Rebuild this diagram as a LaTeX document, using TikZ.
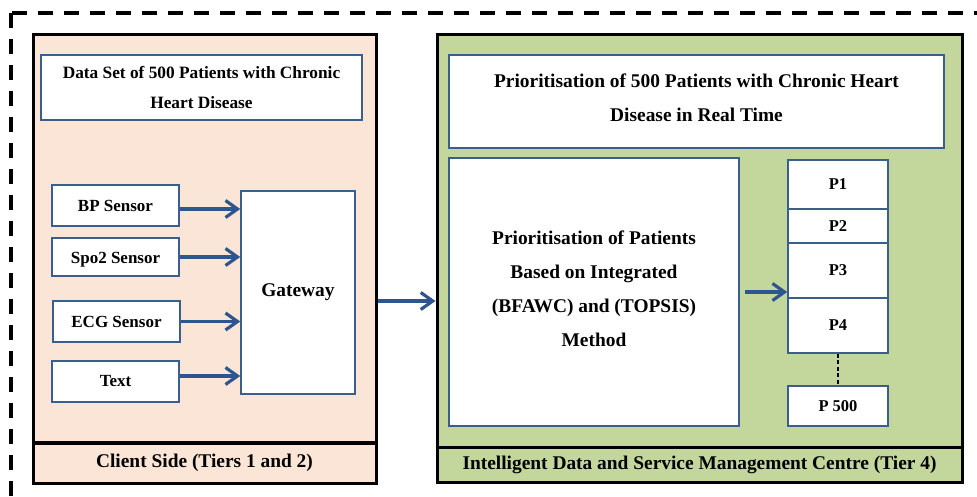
\documentclass[tikz,border=0pt]{standalone}
\usepackage{fontspec}
\setmainfont{Liberation Serif}
\usetikzlibrary{arrows.meta}

\definecolor{peach}{HTML}{FBE5D6}
\definecolor{olive}{HTML}{C3D69B}
\definecolor{boxblue}{HTML}{3A5F8E}
\definecolor{arrowblue}{HTML}{2F5590}

% move a line of text down without changing the space it takes
\newcommand\dropline[2][3.5pt]{\raisebox{-#1}[\height][\depth]{#2}}

\tikzset{
  tier/.style={draw=black, line width=3pt, inner sep=0pt, rectangle},
  panel/.style={draw=boxblue, line width=1.5pt, fill=white, inner sep=0pt, align=center, rectangle},
  sensor/.style={panel, line width=2pt, font=\fontsize{17}{20}\selectfont\bfseries},
  plabel/.style={panel, font=\fontsize{16.5}{20}\selectfont\bfseries},
  bigtext/.style={font=\fontsize{19.4}{34}\selectfont\bfseries},
  size/.style n args={2}{minimum width=#1pt, minimum height=#2pt},
  flow/.style={draw=arrowblue, line width=3.2pt,
    -{Straight Barb[length=12pt,width=17pt]}},
}

\begin{document}
\begin{tikzpicture}[x=1pt,y=-1pt]
\useasboundingbox (0,0) rectangle (977,497);
\begin{scope}
  \clip (0,0) rectangle (977,497);
  % outer dashed frame, running off the page to the right and bottom
  \draw[line width=4pt, dash pattern=on 15pt off 11pt] (11,13) rectangle (1010,530);
\end{scope}

% ---- client side (tiers 1 and 2)
\node[tier, fill=peach, size={343}{407}] (client) at (204.5,238.5) {};
\node[tier, fill=peach, size={343}{40}, bigtext] (clientfoot) at (204.5,463)
  {Client Side (Tiers 1 and 2)};

\node[panel, line width=1.2pt, size={321}{65}, font=\fontsize{17.3}{30}\selectfont\bfseries]
  (dataset) at (201.5,87.5) {Data Set of 500 Patients with Chronic\\Heart Disease};

\node[sensor, size={127}{41}] (bp)  at (115.5,205.5) {BP Sensor};
\node[sensor, size={127}{38}] (spo) at (115.5,257)   {\rule{0pt}{16pt}Spo2 Sensor};
\node[sensor, size={127}{41}] (ecg) at (116.5,321.5) {ECG Sensor};
\node[sensor, size={127}{41}] (txt) at (115.5,381.5) {Text};

\node[panel, size={114}{203}, bigtext] (gw) at (298,292.5) {Gateway};

\draw[flow] ([yshift=-3.5pt]bp.east) -- ([yshift=-3.5pt]bp.east -| gw.west);
\draw[flow] (spo.east) -- (spo.east -| gw.west);
\draw[flow] (ecg.east) -- (ecg.east -| gw.west);
\draw[flow] ([yshift=5.5pt]txt.east) -- ([yshift=5.5pt]txt.east -| gw.west);

% ---- management centre (tier 4)
\node[tier, fill=olive, size={525}{412}] (centre) at (699.5,241) {};
\node[tier, fill=olive, size={525}{35}, bigtext] (centrefoot) at (699.5,464.5)
  {Intelligent Data and Service Management Centre (Tier 4)};

\node[panel, size={495}{93}, bigtext] (title) at (696.5,101.5)
  {\dropline[-4pt]{Prioritisation of 500 Patients with Chronic Heart}\\
   \dropline[-4pt]{Disease in Real Time}};

\node[panel, line width=2pt, size={290}{268}, bigtext] (method) at (594,292)
  {\dropline[-3pt]{Prioritisation of Patients}\\
   \dropline[-3pt]{Based on Integrated}\\
   \dropline[-3pt]{(BFAWC) and (TOPSIS)}\\
   \dropline[-3pt]{Method}};

\node[plabel, size={100}{49}] (p1)   at (838,184.5) {P1};
\node[plabel, size={100}{34}] (p2)   at (838,226)   {P2};
\node[plabel, size={100}{55}] (p3)   at (838,270.5) {P3};
\node[plabel, size={100}{55}] (p4)   at (838,325.5) {P4};
\node[plabel, size={100}{40}] (p500) at (838,406)   {P 500};

\draw[line width=2pt, dash pattern=on 4pt off 2.5pt] (p4.south) -- (p500.north);

\draw[flow] ([xshift=5pt]method.east) -- (method.east -| p3.west);
\draw[flow] (client.east |- 0,301) -- (centre.west |- 0,301);
\end{tikzpicture}
\end{document}
